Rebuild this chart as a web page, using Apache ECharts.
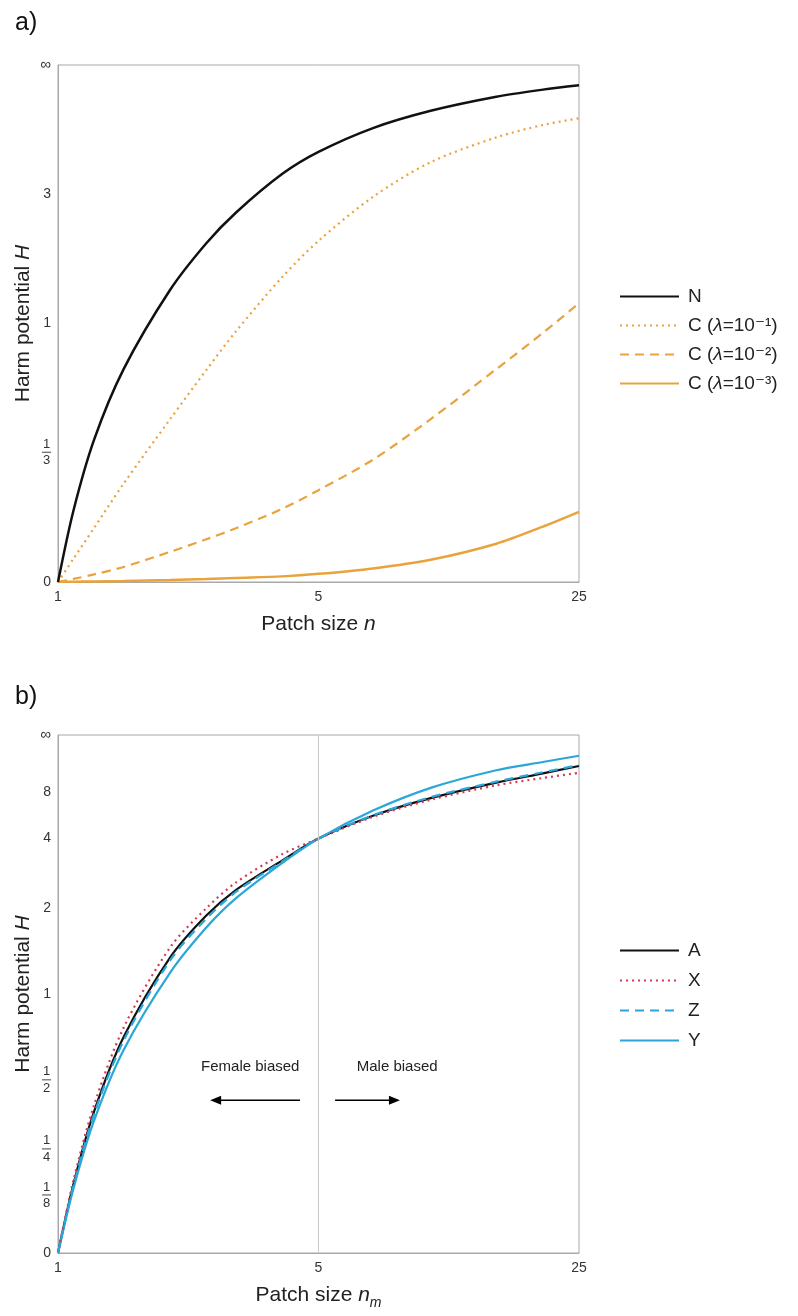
<!DOCTYPE html>
<html>
<head>
<meta charset="utf-8">
<script src="https://cdn.jsdelivr.net/npm/echarts@6/dist/echarts.min.js"></script>
<style>
html,body{margin:0;padding:0;background:#fff;}
#chart{width:798px;height:1316px;}
</style>
</head>
<body>
<div id="chart"></div>
<script>
// ---- Panel a data (patch size n, harm potential H) ----
const xA = [1, 1.1, 1.25, 1.5, 2, 2.5, 3, 4, 5, 7, 10, 15, 20, 25];
const hN   = [0, 0.16, 0.38, 0.7, 1.3, 1.9, 2.5, 3.75, 4.95, 7.2, 10.3, 15.3, 20, 24.6];
const hC1  = [0, 0.047, 0.117, 0.235, 0.46, 0.695, 0.94, 1.44, 1.94, 2.92, 4.32, 6.14, 7.62, 8.71];
const hC2  = [0, 0.006, 0.015, 0.03, 0.062, 0.09, 0.116, 0.165, 0.216, 0.31, 0.46, 0.7, 0.93, 1.17];
const hC3  = [0, 0.0005, 0.001, 0.002, 0.004, 0.006, 0.008, 0.011, 0.016, 0.027, 0.045, 0.08, 0.12, 0.157];
const namesA = ['N', 'C (λ=10⁻¹)', 'C (λ=10⁻²)', 'C (λ=10⁻³)'];

// ---- Panel b data (patch size n_m, harm potential H) ----
const xB = [1, 1.1, 1.25, 1.5, 2, 2.5, 3, 4, 5, 7, 10, 15, 20, 25];
const hA = [0, 0.153, 0.376, 0.715, 1.33, 1.87, 2.34, 3.13, 4, 5.41, 7.2, 9.87, 12.5, 15.7];
const hX = [0, 0.163, 0.4, 0.77, 1.44, 1.99, 2.51, 3.35, 4, 5.33, 7.0, 9.3, 11.05, 12.7];
const hZ = [0, 0.149, 0.366, 0.695, 1.3, 1.82, 2.3, 3.1, 4, 5.45, 7.33, 10.1, 12.9, 16.2];
const hY = [0, 0.142, 0.344, 0.645, 1.18, 1.69, 2.17, 3.05, 4, 5.85, 8.8, 13.7, 18.2, 24];
const namesB = ['A', 'X', 'Z', 'Y'];

// ---- Tick labels ----
const xTicks = [1, 5, 25];
const yTicksA = [0, 1/3, 1, 3, Infinity];
const yLabelsA = ['0', '1/3', '1', '3', '∞'];
const yTicksB = [0, 1/8, 1/4, 1/2, 1, 2, 4, 8, Infinity];
const yLabelsB = ['0', '1/8', '1/4', '1/2', '1', '2', '4', '8', '∞'];

// H/(1+H) transform for the vertical axis
function toF(h) { return h === Infinity ? 1 : h / (1 + h); }
function pairs(xs, hs) { return xs.map((x, i) => [x, toF(hs[i])]); }

function yFormatter(ticks, labels) {
  return function (v) {
    for (let i = 0; i < ticks.length; i++) {
      if (Math.abs(toF(ticks[i]) - v) < 1e-6) {
        const s = labels[i];
        if (s.indexOf('/') >= 0) {
          const p = s.split('/');
          return '{n|' + p[0] + '}\n{l|}\n{d|' + p[1] + '}';
        }
        if (s === '∞') return '{inf|∞}';
        return '{t|' + s + '}';
      }
    }
    return '';
  };
}
const tickRich = {
  t: { fontSize: 14, color: '#333', lineHeight: 16 },
  n: { fontSize: 13, color: '#333', lineHeight: 13, align: 'center', width: 9 },
  l: { width: 9, height: 1, backgroundColor: '#444', lineHeight: 3 },
  d: { fontSize: 13, color: '#333', lineHeight: 14, align: 'center', width: 9 },
  inf: { fontSize: 15, color: '#333', lineHeight: 16 }
};

const FONT = '"Liberation Sans", Arial, "DejaVu Sans", sans-serif';
const AX = '#a8a8a8';
const ORANGE = '#E9A33C';
const RED = '#D53A50';
const BLUE = '#2AA6D9';
const SMOOTH = 0.3;

function xAxis(gridIndex, nameRich) {
  return {
    type: 'log', logBase: 5, min: 1, max: 25, gridIndex: gridIndex,
    name: nameRich.name, nameLocation: 'middle', nameGap: nameRich.gap, nameMoveOverlap: false,
    nameTextStyle: { fontSize: 21, color: '#222', fontFamily: FONT, lineHeight: 30, rich: nameRich.rich },
    axisLine: { lineStyle: { color: AX, width: 1 } },
    axisTick: { show: false },
    splitLine: { show: false },
    minorTick: { show: false },
    axisLabel: { fontSize: 14, color: '#333', margin: 8, fontFamily: FONT,
      formatter: v => { const r = Math.round(v); return xTicks.indexOf(r) >= 0 ? String(r) : ''; } }
  };
}
function yAxis(gridIndex, ticks, labels) {
  return {
    type: 'value', min: 0, max: 1, gridIndex: gridIndex,
    name: 'Harm potential {i|H}', nameLocation: 'middle', nameGap: 24, nameMoveOverlap: false,
    nameTextStyle: { fontSize: 21, color: '#222', fontFamily: FONT, rich: { i: { fontStyle: 'italic', fontSize: 21, color: '#222', fontFamily: FONT } } },
    axisLine: { show: true, lineStyle: { color: AX, width: 1 } },
    axisTick: { show: false },
    splitLine: { show: false },
    axisLabel: { margin: 7, fontFamily: FONT, customValues: ticks.map(toF),
      formatter: yFormatter(ticks, labels), rich: tickRich }
  };
}

const legendRich = { i: { fontStyle: 'italic', fontSize: 19, color: '#222', fontFamily: FONT } };
function legendFmt(name) { return name.replace('λ', '{i|λ}'); }

function lineSeries(name, grid, xs, hs, color, width, type, z) {
  return { name: name, type: 'line', xAxisIndex: grid, yAxisIndex: grid, data: pairs(xs, hs),
    smooth: SMOOTH, symbol: 'none', showSymbol: false,
    lineStyle: { color: color, width: width, type: type }, itemStyle: { color: color }, z: z };
}

const chart = echarts.init(document.getElementById('chart'), null, { renderer: 'canvas' });
const option = {
  animation: false,
  backgroundColor: '#fff',
  textStyle: { fontFamily: FONT },
  title: [
    { text: 'a)', left: 10, top: 6, textStyle: { fontSize: 25, fontWeight: 'normal', color: '#111', fontFamily: FONT } },
    { text: 'b)', left: 10, top: 680, textStyle: { fontSize: 25, fontWeight: 'normal', color: '#111', fontFamily: FONT } }
  ],
  grid: [
    { left: 58, top: 65, width: 521, height: 517, show: true, borderColor: AX, borderWidth: 1, containLabel: false },
    { left: 58, top: 735, width: 521, height: 518, show: true, borderColor: AX, borderWidth: 1, containLabel: false }
  ],
  legend: [
    { data: namesA, orient: 'vertical', left: 614, top: 282, itemWidth: 59, itemHeight: 14, itemGap: 10,
      itemStyle: { opacity: 0 },
      formatter: legendFmt, textStyle: { fontSize: 19, color: '#222', fontFamily: FONT, padding: [0, 0, 0, 4], rich: legendRich } },
    { data: namesB, orient: 'vertical', left: 614, top: 936, itemWidth: 59, itemHeight: 14, itemGap: 11,
      itemStyle: { opacity: 0 },
      textStyle: { fontSize: 19, color: '#222', fontFamily: FONT, padding: [0, 0, 0, 4] } }
  ],
  xAxis: [
    xAxis(0, { name: 'Patch size {i|n}', gap: 27, rich: { i: { fontStyle: 'italic', fontSize: 21, color: '#222', lineHeight: 30, fontFamily: FONT } } }),
    xAxis(1, { name: 'Patch size {i|n}{s|m}', gap: 27, rich: {
      i: { fontStyle: 'italic', fontSize: 21, color: '#222', lineHeight: 30, fontFamily: FONT },
      s: { fontStyle: 'italic', fontSize: 14, color: '#222', lineHeight: 16, verticalAlign: 'bottom', fontFamily: FONT } } })
  ],
  yAxis: [ yAxis(0, yTicksA, yLabelsA), yAxis(1, yTicksB, yLabelsB) ],
  series: [
    lineSeries(namesA[0], 0, xA, hN, '#111', 2.5, 'solid', 5),
    lineSeries(namesA[1], 0, xA, hC1, ORANGE, 2.2, [2, 4], 4),
    lineSeries(namesA[2], 0, xA, hC2, ORANGE, 2.2, [9, 6], 4),
    lineSeries(namesA[3], 0, xA, hC3, ORANGE, 2.5, 'solid', 4),
    Object.assign(lineSeries(namesB[0], 1, xB, hA, '#111', 2.2, 'solid', 3), {
      markPoint: {
        silent: true, symbol: 'circle', symbolSize: 1, itemStyle: { color: 'rgba(0,0,0,0)' },
        label: { show: true, position: 'inside', formatter: '{b}', fontSize: 15, color: '#222', fontFamily: FONT },
        data: [
          { name: 'Female biased', coord: [3.28, toF(0.5625)] },
          { name: 'Male biased', coord: [8.13, toF(0.5625)] }
        ]
      }
    }),
    lineSeries(namesB[1], 1, xB, hX, RED, 2.2, [2, 4], 4),
    lineSeries(namesB[2], 1, xB, hZ, BLUE, 2.2, [9, 6], 4),
    Object.assign(lineSeries(namesB[3], 1, xB, hY, BLUE, 2.2, 'solid', 3), {
      markLine: {
        silent: true, symbol: ['none', 'none'], animation: false,
        lineStyle: { color: '#c8c8c8', width: 1, type: 'solid' }, label: { show: false },
        data: [ { xAxis: 5 } ]
      }
    })
  ]
};
chart.setOption(option);

// arrows (Female biased ← , → Male biased) placed in data coordinates of panel b
const arrows = [
  { from: [4.46, toF(0.418)], to: [2.56, toF(0.418)] },
  { from: [5.54, toF(0.418)], to: [8.27, toF(0.418)] }
];
const g = [];
arrows.forEach(a => {
  const p0 = chart.convertToPixel({ gridIndex: 1 }, a.from);
  const p1 = chart.convertToPixel({ gridIndex: 1 }, a.to);
  const dir = p1[0] > p0[0] ? 1 : -1;
  const L = 11, W = 4.5;
  g.push({ type: 'line', shape: { x1: p0[0], y1: p0[1], x2: p1[0] - dir * L * 0.8, y2: p1[1] },
    style: { stroke: '#000', lineWidth: 1.5 }, silent: true, z: 10 });
  g.push({ type: 'polygon', shape: { points: [[p1[0], p1[1]], [p1[0] - dir * L, p1[1] - W], [p1[0] - dir * L, p1[1] + W]] },
    style: { fill: '#000' }, silent: true, z: 10 });
});
chart.setOption({ graphic: g });
</script>
</body>
</html>
